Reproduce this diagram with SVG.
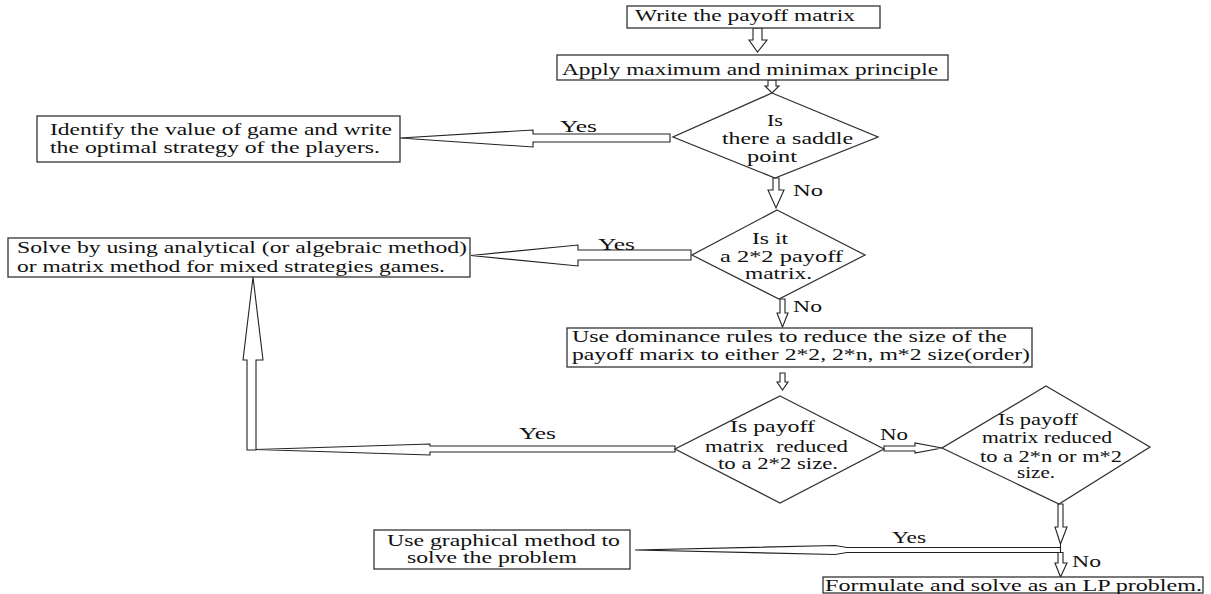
<svg xmlns="http://www.w3.org/2000/svg" width="1211" height="594" viewBox="0 0 1211 594">
<style>
.box{fill:#fff;stroke:#333;stroke-width:1.3}
.arr{fill:#fff;stroke:#222;stroke-width:1.1;stroke-linejoin:miter}
text{font-family:"Liberation Serif","Times New Roman",serif;font-size:16px;fill:#111}
</style>
<rect width="1211" height="594" fill="#fff"/>
<g id="connectors">
<polygon class="arr" points="753,28 762,28 762,40 767,40 757.5,52 749,40 753,40"/>
<polygon class="arr" points="768,80 776,80 776,86 779,86 772,93 765,86 768,86"/>
<polygon class="arr" points="773,178 779,178 779,190 784,190 776,208 768,190 773,190"/>
<polygon class="arr" points="780,299 785,299 785,313 788,313 782.5,327 777,313 780,313"/>
<polygon class="arr" points="780,373 785,373 785,382 788,382 782.5,390 777,382 780,382"/>
<polygon class="arr" points="670,134 533,134 533,130 400,138 533,147 533,142 670,142"/>
<polygon class="arr" points="691,250 578,250 578,245 471,255.5 578,266 578,260 691,260"/>
<polygon class="arr" points="247,450 247,360 243,360 253,277 263,360 256,360 256,450"/>
<polygon class="arr" points="675,446 430,446 430,444 256,449.5 430,455 430,452 675,452"/>
<polygon class="arr" points="884,446 915,446 915,443 942,448 915,453 915,451 884,451"/>
<polygon class="arr" points="1058,504 1063,504 1063,527 1067,527 1060.5,544 1055,527 1058,527"/>
<line x1="1060.5" y1="544" x2="1060.5" y2="548" stroke="#222" stroke-width="1.1"/>
<polygon class="arr" points="1060.5,547.5 847,547.5 835,545.5 635,550 835,554.5 847,552.5 1060.5,552.5"/>
<polygon class="arr" points="1058,552.5 1063,552.5 1063,563 1067,563 1060.5,577 1055,563 1058,563"/>
<text x="560" y="132" textLength="37" lengthAdjust="spacingAndGlyphs">Yes</text>
<text x="598" y="250" textLength="37" lengthAdjust="spacingAndGlyphs">Yes</text>
<text x="519" y="439" textLength="37" lengthAdjust="spacingAndGlyphs">Yes</text>
<text x="892" y="543" textLength="34" lengthAdjust="spacingAndGlyphs">Yes</text>
<text x="793" y="196" textLength="30" lengthAdjust="spacingAndGlyphs">No</text>
<text x="793" y="312" textLength="29" lengthAdjust="spacingAndGlyphs">No</text>
<text x="880" y="440" textLength="28" lengthAdjust="spacingAndGlyphs">No</text>
<text x="1072" y="567" textLength="29" lengthAdjust="spacingAndGlyphs">No</text>
</g>
<g id="n1">
<rect class="box" x="627" y="6" width="253" height="22"/>
<text x="635" y="21" textLength="220" lengthAdjust="spacingAndGlyphs">Write the payoff matrix</text>
</g>
<g id="n2">
<rect class="box" x="557" y="55" width="391" height="25"/>
<text x="562" y="75" textLength="376" lengthAdjust="spacingAndGlyphs">Apply maximum and minimax principle</text>
</g>
<g id="n3">
<polygon class="box" points="772,93 878,137 775,178 673,137"/>
<text x="767" y="126" textLength="16" lengthAdjust="spacingAndGlyphs">Is</text>
<text x="722" y="144" textLength="131" lengthAdjust="spacingAndGlyphs">there a saddle</text>
<text x="747" y="162" textLength="50" lengthAdjust="spacingAndGlyphs">point</text>
</g>
<g id="n4">
<rect class="box" x="37" y="116" width="363" height="46"/>
<text x="50" y="135" textLength="342" lengthAdjust="spacingAndGlyphs">Identify the value of game and write</text>
<text x="50" y="153" textLength="330" lengthAdjust="spacingAndGlyphs">the optimal strategy of the players.</text>
</g>
<g id="n5">
<polygon class="box" points="777,210 865,255 779,299 692,255"/>
<text x="752" y="244" textLength="36" lengthAdjust="spacingAndGlyphs">Is it</text>
<text x="720" y="262" textLength="123" lengthAdjust="spacingAndGlyphs">a 2*2 payoff</text>
<text x="745" y="279" textLength="67" lengthAdjust="spacingAndGlyphs">matrix.</text>
</g>
<g id="n6">
<rect class="box" x="8" y="238" width="462" height="39"/>
<text x="17" y="253" textLength="450" lengthAdjust="spacingAndGlyphs">Solve by using analytical (or algebraic method)</text>
<text x="17" y="272" textLength="428" lengthAdjust="spacingAndGlyphs">or matrix method for mixed strategies games.</text>
</g>
<g id="n7">
<rect class="box" x="567" y="328" width="465" height="39"/>
<text x="572" y="342" textLength="435" lengthAdjust="spacingAndGlyphs">Use dominance rules to reduce the size of the</text>
<text x="572" y="360" textLength="458" lengthAdjust="spacingAndGlyphs">payoff marix to either 2*2, 2*n, m*2 size(order)</text>
</g>
<g id="n8">
<polygon class="box" points="780,396 884,449 780,503 675,449"/>
<text x="730" y="432" textLength="85" lengthAdjust="spacingAndGlyphs">Is payoff</text>
<text x="705" y="452" textLength="143" lengthAdjust="spacingAndGlyphs" xml:space="preserve">matrix  reduced</text>
<text x="718" y="469" textLength="120" lengthAdjust="spacingAndGlyphs">to a 2*2 size.</text>
</g>
<g id="n9">
<polygon class="box" points="1046,386 1150,447 1059,504 942,448"/>
<text x="998" y="425" textLength="80" lengthAdjust="spacingAndGlyphs">Is payoff</text>
<text x="982" y="443" textLength="130" lengthAdjust="spacingAndGlyphs">matrix reduced</text>
<text x="980" y="462" textLength="142" lengthAdjust="spacingAndGlyphs">to a 2*n or m*2</text>
<text x="1017" y="478" textLength="38" lengthAdjust="spacingAndGlyphs">size.</text>
</g>
<g id="n10">
<rect class="box" x="374" y="530" width="256" height="39"/>
<text x="387" y="546" textLength="233" lengthAdjust="spacingAndGlyphs">Use graphical method to</text>
<text x="407" y="563" textLength="170" lengthAdjust="spacingAndGlyphs">solve the problem</text>
</g>
<g id="n11">
<rect class="box" x="823" y="577" width="380" height="16"/>
<text x="825" y="591" textLength="377" lengthAdjust="spacingAndGlyphs">Formulate and solve as an LP problem.</text>
</g>
</svg>
